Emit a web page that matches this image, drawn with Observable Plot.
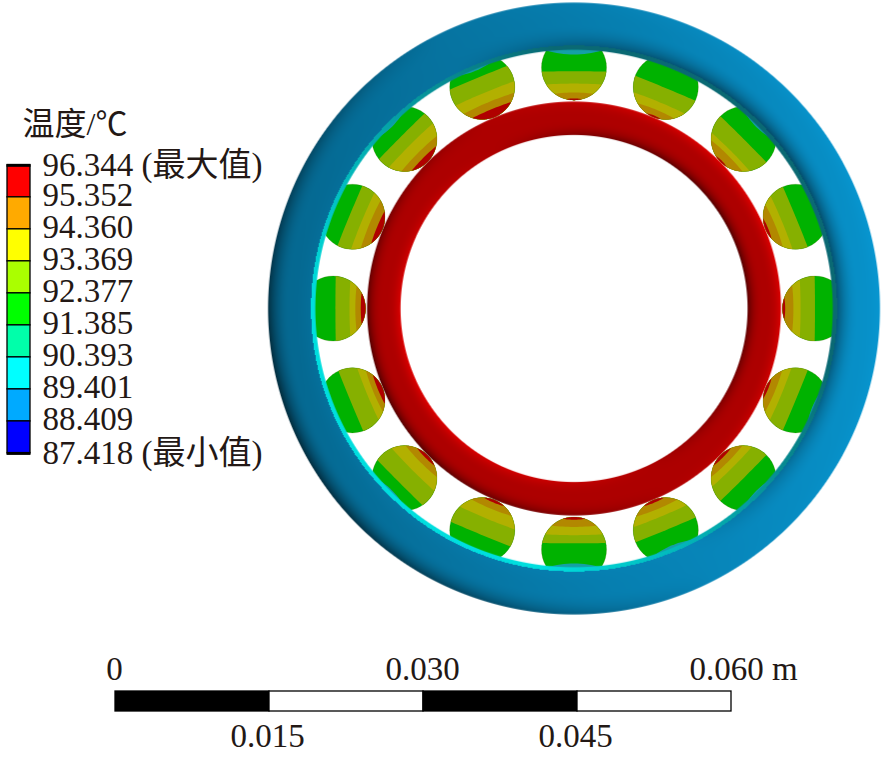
<!DOCTYPE html>
<html><head><meta charset="utf-8">
<style>html,body{margin:0;padding:0;background:#fff}svg{display:block}</style>
<script src="https://cdn.jsdelivr.net/npm/d3@7"></script>
<script src="https://cdn.jsdelivr.net/npm/@observablehq/plot@0.6"></script>
</head><body><div id="chart"></div>
<script>
// Legend
const legendTitle = "温度/℃";
const legendTemps = [96.344,95.352,94.360,93.369,92.377,91.385,90.393,89.401,88.409,87.418];
const legendSuffix = [" (最大值)","","","","","","","",""," (最小值)"];
const legendColors = ["#ff0000","#ffaa00","#ffff00","#aaff00","#00ff00","#00ffaa","#00ffff","#00aaff","#0000ff"];
// Length scale (m)
const barStops = [0,0.015,0.030,0.045,0.060];
const barFill = ["#000","#fff","#000","#fff"];
const barTop = [0,0.030,0.060];
const barBottom = [0.015,0.045];
// Bearing geometry (mm)
const centre = [44.66,37.3];
const outerRing = [25.62,29.8];
const stripInner = 25.2;
const innerRing = [16.9,20.16];
const ballRadius = 3.17;
// Balls clockwise from top: polar angle (deg), orbit radius (mm)
const ballAngle = [90,67.5,45,22.5,0,-22.5,-45,-67.5,-90,-112.5,-135,-157.5,180,157.5,135,112.5];
const ballOrbit = [23.47,23.36,23.36,23.36,23.47,23.36,23.36,23.36,23.47,23.36,23.36,23.36,23.47,23.36,23.36,23.36];
// Isotherm offsets inside each ball, measured toward the bearing centre (mm)
const oliveEdge  = [0.36,0.1,0,0,0,0,0,0,0.6,-0.45,-0.65,-0.2,0.23,-0.3,-0.4,-1.0];
const yellowEdge = [1.56,1.6,1.7,1.4,1.4,1.5,1.5,1.4,1.4,1.2,1.1,1.55,1.6,1.0,0.8,0.6];
const orangeEdge = [2.43,2.4,2.2,2.15,2.1,2.2,2.2,2.2,2.2,2.25,2.2,2.2,2.17,1.8,1.9,1.6];
const redEdge    = [3.0,3.0,3.0,2.9,2.9,2.9,2.85,2.9,2.9,2.9,2.85,2.7,2.7,2.6,2.6,2.35];
const lensEdge   = [1.27,1.9,1.7,2.1,2.4,1.75,1.75,1.6,1.36,1.9,1.7,2.0,2.4,2.4,1.7,1.7];
const bandColors = ["#00b200","#86b000","#b2b000","#b28800","#b00000"];
const lensColor = "#14a0a6";

const font = '"Liberation Serif","Noto Sans CJK SC",serif';
const W = 886, H = 759, k = 616/60, x0 = 115, y0 = 691;
const tempY = d3.scaleLinear([87.418,96.344],[23.19,51.25]);
const clamp = (v,a=0,b=1)=>Math.max(a,Math.min(b,v));

// One band of a ball: the part of the disc past offset c along the direction dir
function segment(id,color,cx,cy,dir,c,bow){
  const r = ballRadius, e = clamp(c+bow,-r,r), A = Math.acos(e/r), pts = [];
  const vm = r*Math.sin(A);
  const put = (u,v)=>pts.push({id,color,
    x:cx+u*Math.cos(dir)-v*Math.sin(dir), y:cy+u*Math.sin(dir)+v*Math.cos(dir)});
  for(let i=0;i<=48;i++){const a=-A+2*A*i/48; put(r*Math.cos(a),r*Math.sin(a));}
  if(vm>1e-6) for(let i=1;i<16;i++){const v=vm-2*vm*i/16; put(c+bow*(v/vm)**2,v);}
  return pts;
}
const ballBands = ballAngle.map((deg,i)=>{
  const t = deg*Math.PI/180;
  const cx = centre[0]+ballOrbit[i]*Math.cos(t), cy = centre[1]+ballOrbit[i]*Math.sin(t);
  const inward = t+Math.PI;
  return {
    disc: segment(`b${i}0`,bandColors[0],cx,cy,inward,-ballRadius,0),
    bands: [
      segment(`b${i}1`,bandColors[1],cx,cy,inward,oliveEdge[i],0.03),
      segment(`b${i}2`,bandColors[2],cx,cy,inward,yellowEdge[i],0.08),
      segment(`b${i}3`,bandColors[3],cx,cy,inward,orangeEdge[i],0.12),
      segment(`b${i}4`,bandColors[4],cx,cy,inward,redEdge[i],0.08)
    ].flat(),
    lens: segment(`b${i}5`,lensColor,cx,cy,t,lensEdge[i],0.39)
  };
});
const ballDiscs = ballBands.flatMap(b=>b.disc);
const ballFill = ballBands.flatMap(b=>[...b.disc,...b.bands]);
const ballLens = ballBands.flatMap(b=>b.lens);

const polar = (px,py)=>{const dx=px-centre[0],dy=py-centre[1],r=Math.hypot(dx,dy);return{r,nx:dx/r,ny:dy/r};};
const shade = (R,G,B,v)=>`rgb(${R*v|0},${G*v|0},${B*v|0})`;
const cover = (r,a,b)=>clamp((b-r)*k+.5)*clamp((r-a)*k+.5);
function torusLight(p,a,b,pow){
  const s = 2*(p.r-a)/(b-a)-1, e = Math.sign(s)*Math.abs(s)**pow;
  return clamp(e*(p.nx*0.9+p.ny*0.45),-1,1);
}
const innerFill = (px,py)=>{
  const p = polar(px,py);
  if(p.r<innerRing[0]-.1||p.r>innerRing[1]+.1) return null;
  const d = torusLight(p,innerRing[0],innerRing[1],2.6);
  return shade(255,0,0,0.68+(d>0?0.2:0.36)*d);
};
const outerFill = (px,py)=>{
  const p = polar(px,py);
  if(p.r<stripInner-.1||p.r>outerRing[1]+.1) return null;
  if(p.r<outerRing[0]){
    const f = clamp(0.45+0.75*(-0.75*p.nx-0.65*p.ny));
    const m = (a,b)=>a+(b-a)*f;
    return `rgb(${m(10,0)|0},${m(105,222)|0},${m(115,222)|0})`;
  }
  const d = torusLight(p,outerRing[0],outerRing[1],2);
  const v = 0.83+0.13*p.nx+(d>0?0.05:0.42)*d;
  return shade(8,150,208,clamp(v,0,1.05));
};
const box = {x1:centre[0]-31,x2:centre[0]+31,y1:centre[1]-31,y2:centre[1]+31,pixelSize:1};

const cells = legendColors.map((c,i)=>({c,t1:legendTemps[i],t2:legendTemps[i+1]}));
const legendRows = legendTemps.map((t,i)=>({t,label:t.toFixed(3)+legendSuffix[i]}));
const barCells = barFill.map((c,i)=>({c,a:barStops[i]*1000,b:barStops[i+1]*1000}));
const txt = {fontFamily:font,fontSize:33,fill:"#231815"};
const lx = (px)=>(px-x0)/k, ly=(py)=>(y0-py)/k;

const plot = Plot.plot({
  width:W,height:H,margin:0,
  x:{axis:null,domain:[lx(0),lx(W)],range:[0,W]},
  y:{axis:null,domain:[ly(H),ly(0)],range:[H,0]},
  style:{background:"#fff"},
  marks:[
    Plot.line(ballFill,{x:"x",y:"y",z:"id",fill:"color",stroke:"none",curve:"linear"}),
    Plot.line(ballDiscs,{x:"x",y:"y",z:"id",stroke:"#4a6400",strokeOpacity:0.25,strokeWidth:0.8,curve:"linear"}),
    Plot.line(ballLens,{x:"x",y:"y",z:"id",fill:"color",stroke:"none",curve:"linear"}),
    Plot.raster({...box,fill:innerFill,fillOpacity:(a,b)=>cover(polar(a,b).r,innerRing[0],innerRing[1])}),
    Plot.raster({...box,fill:outerFill,fillOpacity:(a,b)=>cover(polar(a,b).r,stripInner,outerRing[1])}),
    // legend bar
    Plot.rect(cells,{x1:lx(7),x2:lx(30),y1:d=>tempY(d.t1),y2:d=>tempY(d.t2),fill:"c",stroke:"#000",strokeWidth:1.3}),
    Plot.ruleY([legendTemps[0],legendTemps[9]].map(t=>tempY(t)),{x1:lx(6.5),x2:lx(30.5),stroke:"#000",strokeWidth:3}),
    Plot.text(legendRows.slice(1,9),{x:lx(42),y:d=>tempY(d.t),text:"label",textAnchor:"start",dy:-1.5,...txt}),
    Plot.text([legendRows[0],legendRows[9]],{x:lx(42),y:d=>tempY(d.t),text:"label",textAnchor:"start",...txt}),
    Plot.text([legendTitle],{x:lx(22),y:ly(124),text:d=>d,textAnchor:"start",...txt,fontSize:32}),
    // length scale
    Plot.rect(barCells,{x1:"a",x2:"b",y1:ly(711),y2:0,fill:"c",stroke:"#000",strokeWidth:1.3}),
    Plot.text(barTop.slice(0,2),{x:d=>d*1000,y:ly(669),text:d=>d===0?"0":d.toFixed(3),dx:-1,...txt,textAnchor:"middle"}),
    Plot.text(barTop.slice(2),{x:d=>d*1000,y:ly(669),text:d=>d.toFixed(3)+" m",dx:12,...txt,textAnchor:"middle"}),
    Plot.text(barBottom,{x:d=>d*1000,y:ly(736),text:d=>d.toFixed(3),dx:-2,...txt,textAnchor:"middle"})
  ]
});
document.getElementById("chart").append(plot);
</script></body></html>
